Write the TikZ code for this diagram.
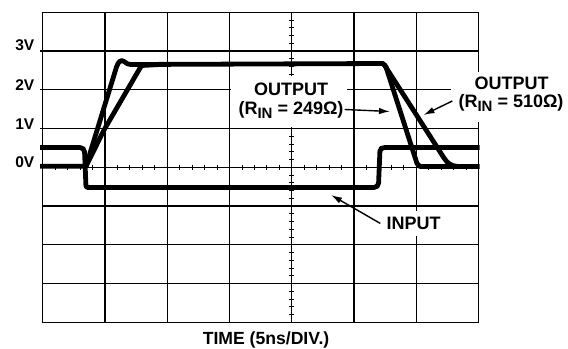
\documentclass[tikz,border=0pt]{standalone}
\usepackage{fontspec}
\setmainfont{Liberation Sans}
\usetikzlibrary{arrows.meta}
\begin{document}
\begin{tikzpicture}[x=1bp,y=-1bp,
  gridline/.style={line width=1.3bp},
  minortick/.style={line width=1bp},
  trace/.style={line width=4.8bp, line join=round},
  pointer/.style={line width=1.4bp, -{Latex[length=11bp,width=6.5bp]}},
  lbl/.style={font=\fontsize{18bp}{20bp}\selectfont\bfseries, inner sep=1bp, anchor=base},
  axlbl/.style={font=\fontsize{15.5bp}{17bp}\selectfont\bfseries, inner sep=0pt, anchor=base east}
]
\useasboundingbox (0,0) rectangle (568,348);
% grid
\foreach \j in {1,...,7} \draw[gridline] (42.7,{12.3+38.75*\j}) -- (478.7,{12.3+38.75*\j});
\foreach \j in {1,...,4} \draw[gridline] (40,{12.3+38.75*\j}) -- (42.7,{12.3+38.75*\j});
\foreach \i in {1,...,6} \draw[gridline] ({42.7+62.286*\i},12.3) -- ({42.7+62.286*\i},322.3);
\draw[gridline] (42.7,12.3) rectangle (478.7,322.3);
% minor ticks
\foreach \k in {1,...,34} \draw[minortick] ({42.7+12.457*\k},164.8) -- ({42.7+12.457*\k},169.8);
\foreach \k in {1,...,39} \draw[minortick] (289.3,{12.3+7.75*\k}) -- (294.3,{12.3+7.75*\k});
% label backgrounds
\fill[white] (231,76) rectangle (346.5,126.5);
\fill[white] (451,72) rectangle (568,122);
% axis labels
\node[axlbl] (v3) at (34.5,50.7) {3V};
\node[axlbl] (v2) at (34.5,90.3) {2V};
\node[axlbl] (v1) at (34.5,129.6) {1V};
\node[axlbl] (v0) at (34.5,167.7) {0V};
% traces
\draw[trace, rounded corners=2bp] (40,147.5) -- (82,147.5) -- (84.5,150) -- (86,187.5) -- (376,187.5) -- (378.5,185) -- (380,149) -- (383,147.5) -- (479.7,147.5);
\draw[trace] (40,166.3) -- (86,166.3) -- (116.5,67) .. controls (118.5,61) and (121,59.5) .. (124,61.5) .. controls (126.5,63.5) and (128,64.5) .. (132,64.5) -- (383,63.5) -- (386,67) -- (417,163.5) -- (420,166.5) -- (479.7,166.5);
\draw[trace] (86,166.3) -- (104,130) -- (141.5,65.5) -- (160,64.5);
\draw[trace] (384,64) -- (387,69) -- (444,158) .. controls (447.5,163.5) and (451,166) .. (458,166.5) -- (470,166.5);
% labels
\node[lbl] (o249a) at (291,95.5) {OUTPUT};
\node[lbl] (o249b) at (291,114) {(R\raisebox{-4bp}{\fontsize{15bp}{15bp}\selectfont IN} = 249Ω)};
\node[lbl] (o510a) at (511.5,89.3) {OUTPUT};
\node[lbl, inner xsep=6bp] (o510b) at (511,107.5) {(R\raisebox{-4bp}{\fontsize{15bp}{15bp}\selectfont IN} = 510Ω)};
\node[lbl, fill=white, inner xsep=6bp, inner ysep=6.5bp] (inlbl) at (413.5,229.5) {INPUT};
\node[lbl, font=\fontsize{17.6bp}{20bp}\selectfont\bfseries] (time) at (266,344.3) {TIME (5ns/DIV.)};
% pointers
\coordinate (t249) at (390,111.5);
\coordinate (t510) at (423.5,115);
\coordinate (tin) at (331,195);
\draw[pointer] (o249b.east) -- (t249);
\draw[pointer] ([yshift=2bp]o510b.west) -- (t510);
\draw[pointer] (inlbl.west) -- (tin);
\end{tikzpicture}
\end{document}
